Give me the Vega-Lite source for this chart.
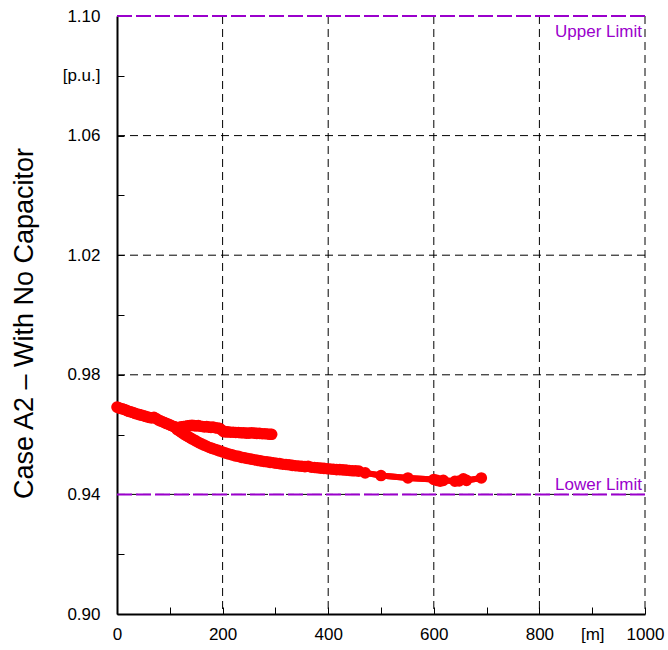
{
  "$schema": "https://vega.github.io/schema/vega-lite/v6.json",
  "width": 528,
  "height": 598,
  "autosize": {"type": "none"},
  "padding": {"left": 117, "top": 16, "right": 23, "bottom": 36},
  "background": "white",
  "config": {"view": {"stroke": null}, "font": "Liberation Sans"},
  "datasets": {
    "gridx": [{"x": 200}, {"x": 400}, {"x": 600}, {"x": 800}, {"x": 1000}],
    "gridy": [{"y": 0.94}, {"y": 0.98}, {"y": 1.02}, {"y": 1.06}],
    "limits": [{"y": 1.10, "label": "Upper Limit"}, {"y": 0.94, "label": "Lower Limit"}],
    "volt": [
      {"b": "B", "x": 0, "y": 0.9692}, {"b": "B", "x": 3, "y": 0.9690}, {"b": "B", "x": 6, "y": 0.9688}, {"b": "B", "x": 10, "y": 0.9686},
      {"b": "B", "x": 14, "y": 0.9684}, {"b": "B", "x": 18, "y": 0.9681}, {"b": "B", "x": 22, "y": 0.9678}, {"b": "B", "x": 26, "y": 0.9676},
      {"b": "B", "x": 30, "y": 0.9674}, {"b": "B", "x": 34, "y": 0.9671}, {"b": "B", "x": 38, "y": 0.9669}, {"b": "B", "x": 42, "y": 0.9667},
      {"b": "B", "x": 46, "y": 0.9665}, {"b": "B", "x": 50, "y": 0.9663}, {"b": "B", "x": 54, "y": 0.9661}, {"b": "B", "x": 58, "y": 0.9659},
      {"b": "B", "x": 62, "y": 0.9657}, {"b": "B", "x": 66, "y": 0.9656}, {"b": "B", "x": 70, "y": 0.9658}, {"b": "B", "x": 74, "y": 0.9654},
      {"b": "B", "x": 78, "y": 0.9649}, {"b": "B", "x": 82, "y": 0.9646}, {"b": "B", "x": 86, "y": 0.9643}, {"b": "B", "x": 90, "y": 0.9640},
      {"b": "B", "x": 94, "y": 0.9637}, {"b": "B", "x": 98, "y": 0.9634}, {"b": "B", "x": 102, "y": 0.9631}, {"b": "B", "x": 106, "y": 0.9628},
      {"b": "B", "x": 110, "y": 0.9625}, {"b": "B", "x": 114, "y": 0.9622}, {"b": "B", "x": 118, "y": 0.9624}, {"b": "B", "x": 122, "y": 0.9626},
      {"b": "B", "x": 126, "y": 0.9627}, {"b": "B", "x": 130, "y": 0.9628}, {"b": "B", "x": 134, "y": 0.9629}, {"b": "B", "x": 138, "y": 0.9630},
      {"b": "B", "x": 142, "y": 0.9631}, {"b": "B", "x": 146, "y": 0.9630}, {"b": "B", "x": 150, "y": 0.9629}, {"b": "B", "x": 154, "y": 0.9630},
      {"b": "B", "x": 158, "y": 0.9628}, {"b": "B", "x": 162, "y": 0.9627}, {"b": "B", "x": 166, "y": 0.9626}, {"b": "B", "x": 170, "y": 0.9627},
      {"b": "B", "x": 174, "y": 0.9625}, {"b": "B", "x": 178, "y": 0.9624}, {"b": "B", "x": 182, "y": 0.9625}, {"b": "B", "x": 186, "y": 0.9623},
      {"b": "B", "x": 190, "y": 0.9622}, {"b": "B", "x": 194, "y": 0.9621}, {"b": "B", "x": 198, "y": 0.9616}, {"b": "B", "x": 202, "y": 0.9610},
      {"b": "B", "x": 206, "y": 0.9609}, {"b": "B", "x": 210, "y": 0.9609}, {"b": "B", "x": 215, "y": 0.9608}, {"b": "B", "x": 220, "y": 0.9608},
      {"b": "B", "x": 225, "y": 0.9607}, {"b": "B", "x": 230, "y": 0.9607}, {"b": "B", "x": 235, "y": 0.9606}, {"b": "B", "x": 240, "y": 0.9606},
      {"b": "B", "x": 245, "y": 0.9605}, {"b": "B", "x": 250, "y": 0.9605}, {"b": "B", "x": 255, "y": 0.9606}, {"b": "B", "x": 260, "y": 0.9605},
      {"b": "B", "x": 265, "y": 0.9604}, {"b": "B", "x": 270, "y": 0.9604}, {"b": "B", "x": 275, "y": 0.9603}, {"b": "B", "x": 280, "y": 0.9603},
      {"b": "B", "x": 285, "y": 0.9602}, {"b": "B", "x": 290, "y": 0.9601}, {"b": "B", "x": 293, "y": 0.9601},
      {"b": "C", "x": 110, "y": 0.9625}, {"b": "C", "x": 114, "y": 0.9617}, {"b": "C", "x": 118, "y": 0.9612}, {"b": "C", "x": 122, "y": 0.9607},
      {"b": "C", "x": 126, "y": 0.9602}, {"b": "C", "x": 130, "y": 0.9598}, {"b": "C", "x": 134, "y": 0.9594}, {"b": "C", "x": 138, "y": 0.9590},
      {"b": "C", "x": 142, "y": 0.9586}, {"b": "C", "x": 146, "y": 0.9582}, {"b": "C", "x": 150, "y": 0.9578}, {"b": "C", "x": 155, "y": 0.9573},
      {"b": "C", "x": 160, "y": 0.9569}, {"b": "C", "x": 165, "y": 0.9565}, {"b": "C", "x": 170, "y": 0.9561}, {"b": "C", "x": 175, "y": 0.9557},
      {"b": "C", "x": 180, "y": 0.9554}, {"b": "C", "x": 185, "y": 0.9551}, {"b": "C", "x": 190, "y": 0.9548}, {"b": "C", "x": 195, "y": 0.9545},
      {"b": "C", "x": 200, "y": 0.9542}, {"b": "C", "x": 206, "y": 0.9538}, {"b": "C", "x": 212, "y": 0.9535}, {"b": "C", "x": 218, "y": 0.9532},
      {"b": "C", "x": 224, "y": 0.9529}, {"b": "C", "x": 230, "y": 0.9527}, {"b": "C", "x": 236, "y": 0.9524}, {"b": "C", "x": 242, "y": 0.9522},
      {"b": "C", "x": 248, "y": 0.9520}, {"b": "C", "x": 254, "y": 0.9518}, {"b": "C", "x": 260, "y": 0.9516}, {"b": "C", "x": 266, "y": 0.9514},
      {"b": "C", "x": 272, "y": 0.9512}, {"b": "C", "x": 278, "y": 0.9510}, {"b": "C", "x": 284, "y": 0.9509}, {"b": "C", "x": 290, "y": 0.9507},
      {"b": "C", "x": 296, "y": 0.9506}, {"b": "C", "x": 302, "y": 0.9504}, {"b": "C", "x": 308, "y": 0.9503}, {"b": "C", "x": 314, "y": 0.9501},
      {"b": "C", "x": 320, "y": 0.9500}, {"b": "C", "x": 326, "y": 0.9499}, {"b": "C", "x": 332, "y": 0.9497}, {"b": "C", "x": 338, "y": 0.9496},
      {"b": "C", "x": 344, "y": 0.9495}, {"b": "C", "x": 350, "y": 0.9494}, {"b": "C", "x": 356, "y": 0.9493}, {"b": "C", "x": 362, "y": 0.9494},
      {"b": "C", "x": 368, "y": 0.9491}, {"b": "C", "x": 374, "y": 0.9490}, {"b": "C", "x": 380, "y": 0.9489}, {"b": "C", "x": 386, "y": 0.9488},
      {"b": "C", "x": 392, "y": 0.9487}, {"b": "C", "x": 398, "y": 0.9486}, {"b": "C", "x": 404, "y": 0.9485}, {"b": "C", "x": 410, "y": 0.9484},
      {"b": "C", "x": 416, "y": 0.9483}, {"b": "C", "x": 422, "y": 0.9483}, {"b": "C", "x": 428, "y": 0.9482}, {"b": "C", "x": 434, "y": 0.9481},
      {"b": "C", "x": 440, "y": 0.9480}, {"b": "C", "x": 446, "y": 0.9479}, {"b": "C", "x": 452, "y": 0.9479}, {"b": "C", "x": 458, "y": 0.9478},
      {"b": "C", "x": 470, "y": 0.9472}, {"b": "C", "x": 500, "y": 0.9463}, {"b": "C", "x": 551, "y": 0.9455}, {"b": "C", "x": 600, "y": 0.9450},
      {"b": "C", "x": 606, "y": 0.9447}, {"b": "C", "x": 612, "y": 0.9444}, {"b": "C", "x": 618, "y": 0.9447}, {"b": "C", "x": 640, "y": 0.9444},
      {"b": "C", "x": 648, "y": 0.9445}, {"b": "C", "x": 656, "y": 0.9452}, {"b": "C", "x": 662, "y": 0.9447}, {"b": "C", "x": 690, "y": 0.9455}
    ]
  },
  "layer": [
    {
      "data": {"name": "volt"},
      "mark": {"type": "line", "color": "#ff0000", "strokeWidth": 6},
      "encoding": {
        "x": {
          "field": "x", "type": "quantitative",
          "scale": {"domain": [0, 1000], "nice": false, "zero": false},
          "axis": {
            "values": [0, 100, 200, 300, 400, 500, 600, 700, 800, 900, 1000],
            "labelExpr": "datum.value == 900 ? '[m]' : (datum.value % 200 == 0 ? datum.label : '')",
            "format": "d",
            "title": null,
            "grid": false,
            "tickSize": -7,
            "tickColor": "black",
            "tickWidth": 1,
            "domainColor": "black",
            "domainWidth": 2,
            "labelPadding": 19,
            "labelFontSize": 17,
            "labelFont": "Liberation Sans",
            "labelColor": "black",
            "labelFlush": false,
            "labelOverlap": false
          }
        },
        "y": {
          "field": "y", "type": "quantitative",
          "scale": {"domain": [0.90, 1.10], "nice": false, "zero": false},
          "axis": {
            "values": [0.90, 0.92, 0.94, 0.96, 0.98, 1.00, 1.02, 1.04, 1.06, 1.08, 1.10],
            "labelExpr": "abs(datum.value - 1.08) < 0.001 ? '[p.u.]' : (round(datum.value * 100) % 4 == 2 ? format(datum.value, '.2f') : '')",
            "title": "Case A2 – With No Capacitor",
            "titleFontSize": 27,
            "titleFontWeight": "normal",
            "titleFont": "Liberation Sans",
            "titleColor": "black",
            "titleX": -85,
            "titleY": 307,
            "titleAngle": 270,
            "titleAlign": "center",
            "titleBaseline": "alphabetic",
            "grid": false,
            "tickSize": -7,
            "tickColor": "black",
            "tickWidth": 1,
            "domainColor": "black",
            "domainWidth": 2,
            "labelPadding": 24,
            "labelFontSize": 17,
            "labelFont": "Liberation Sans",
            "labelColor": "black",
            "labelFlush": false,
            "labelOverlap": false
          }
        },
        "detail": {"field": "b"}
      }
    },
    {
      "data": {"name": "gridx"},
      "mark": {"type": "rule", "color": "black", "strokeWidth": 1, "strokeDash": [8, 5]},
      "encoding": {"x": {"field": "x", "type": "quantitative"}}
    },
    {
      "data": {"name": "gridy"},
      "mark": {"type": "rule", "color": "black", "strokeWidth": 1, "strokeDash": [8, 5]},
      "encoding": {"y": {"field": "y", "type": "quantitative"}}
    },
    {
      "data": {"name": "limits"},
      "mark": {"type": "rule", "color": "#9a00cc", "strokeWidth": 2, "strokeDash": [15, 4]},
      "encoding": {"y": {"field": "y", "type": "quantitative"}}
    },
    {
      "data": {"name": "limits"},
      "transform": [{"filter": "datum.label == 'Upper Limit'"}],
      "mark": {"type": "text", "color": "#9a00cc", "fontSize": 17, "font": "Liberation Sans", "align": "right", "baseline": "alphabetic", "dx": -3, "dy": 21},
      "encoding": {
        "x": {"datum": 1000, "type": "quantitative"},
        "y": {"field": "y", "type": "quantitative"},
        "text": {"field": "label"}
      }
    },
    {
      "data": {"name": "limits"},
      "transform": [{"filter": "datum.label == 'Lower Limit'"}],
      "mark": {"type": "text", "color": "#9a00cc", "fontSize": 17, "font": "Liberation Sans", "align": "right", "baseline": "alphabetic", "dx": -3, "dy": -4},
      "encoding": {
        "x": {"datum": 1000, "type": "quantitative"},
        "y": {"field": "y", "type": "quantitative"},
        "text": {"field": "label"}
      }
    },
    {
      "data": {"name": "volt"},
      "mark": {"type": "line", "color": "#ff0000", "strokeWidth": 6},
      "encoding": {
        "x": {"field": "x", "type": "quantitative"},
        "y": {"field": "y", "type": "quantitative"},
        "detail": {"field": "b"}
      }
    },
    {
      "data": {"name": "volt"},
      "mark": {"type": "point", "shape": "circle", "filled": true, "color": "#ff0000", "opacity": 1, "size": 135},
      "encoding": {
        "x": {"field": "x", "type": "quantitative"},
        "y": {"field": "y", "type": "quantitative"}
      }
    }
  ]
}
